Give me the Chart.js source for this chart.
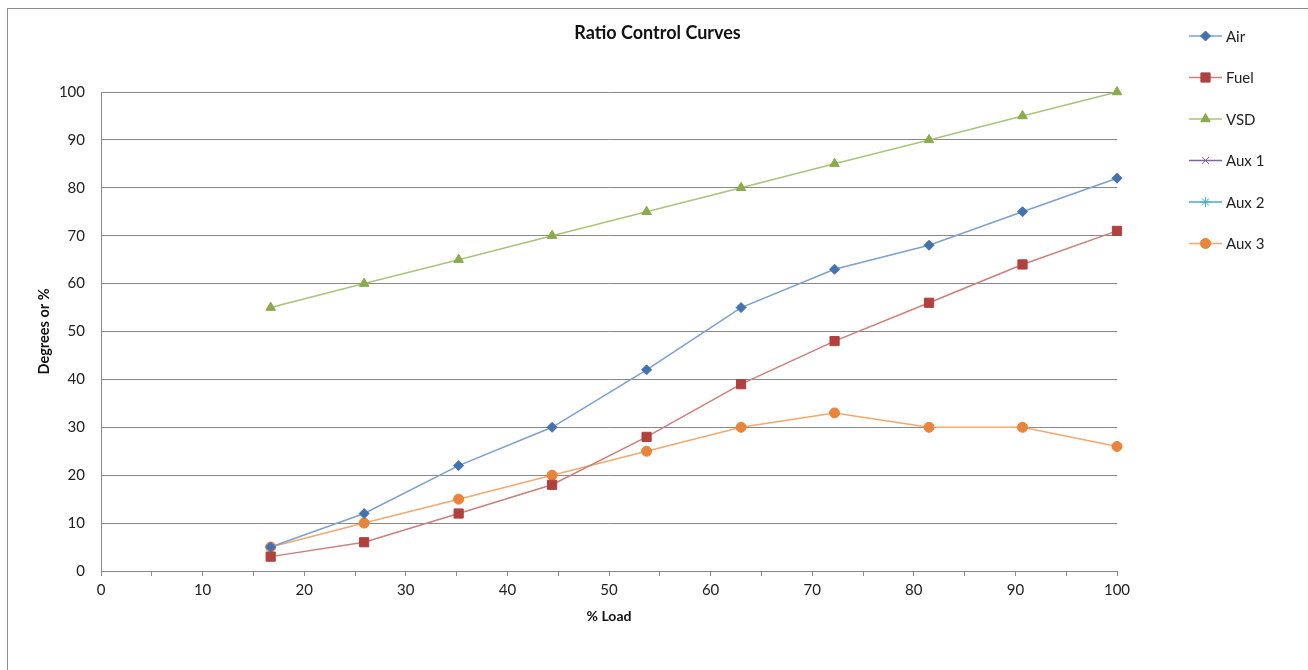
<!DOCTYPE html>
<html>
<head>
<meta charset="utf-8">
<script src="https://cdn.jsdelivr.net/npm/chart.js@4.4.0/dist/chart.umd.min.js"></script>
<style>
  html, body { margin: 0; padding: 0; background: #fff; }
  #wrap { position: relative; width: 1308px; height: 670px; }
</style>
</head>
<body>
<div id="wrap"><canvas id="ratioChart" width="1308" height="670"></canvas></div>
<script>
// Ratio control curves
const loadPct   = [16.7, 25.9, 35.2, 44.4, 53.7, 63.0, 72.2, 81.5, 90.7, 100];
const airVals   = [5, 12, 22, 30, 42, 55, 63, 68, 75, 82];
const fuelVals  = [3, 6, 12, 18, 28, 39, 48, 56, 64, 71];
const vsdVals   = [55, 60, 65, 70, 75, 80, 85, 90, 95, 100];
const aux1Vals  = [];
const aux2Vals  = [];
const aux3Vals  = [5, 10, 15, 20, 25, 30, 33, 30, 30, 26];

const seriesNames = ['Air', 'Fuel', 'VSD', 'Aux 1', 'Aux 2', 'Aux 3'];
const FONT = 'Lato, "Open Sans", sans-serif';

const styles = [
  { line: '#7ca0cf', mark: '#4472b0', shape: 'rectRot', r: 5 },
  { line: '#cc7f7d', mark: '#b0413e', shape: 'rect',    r: 6.5 },
  { line: '#a9c47a', mark: '#8aab4a', shape: 'triangle', r: 5.5 },
  { line: '#8064a2', mark: '#8064a2', shape: 'crossRot', r: 5 },
  { line: '#4bacc6', mark: '#4bacc6', shape: 'star',     r: 5 },
  { line: '#f3a86e', mark: '#e9843a', shape: 'circle',   r: 5 },
];

function pts(vals) {
  return vals.map((v, i) => ({ x: loadPct[i], y: v }));
}

const allVals = [airVals, fuelVals, vsdVals, aux1Vals, aux2Vals, aux3Vals];

const datasets = allVals.map((vals, i) => ({
  label: seriesNames[i],
  data: pts(vals),
  showLine: true,
  clip: false,
  borderColor: styles[i].line,
  borderWidth: 1.5,
  pointStyle: styles[i].shape,
  pointRadius: styles[i].r,
  pointBackgroundColor: styles[i].mark,
  pointBorderColor: styles[i].mark,
  pointBorderWidth: 1,
  tension: 0,
}));

// outer frame + legend drawn next to the plot like the spreadsheet chart
const framePlugin = {
  id: 'frame',
  beforeDraw(chart) {
    const ctx = chart.ctx;
    ctx.save();
    ctx.fillStyle = '#fff';
    ctx.fillRect(0, 0, chart.width, chart.height);
    ctx.strokeStyle = '#8c8c8c';
    ctx.lineWidth = 1;
    ctx.strokeRect(7.5, 8.5, 1400, 700);
    ctx.restore();
  },
  afterDraw(chart) {
    const ctx = chart.ctx;
    const drawPoint = Chart.helpers && Chart.helpers.drawPoint;
    ctx.save();
    chart.data.datasets.forEach((ds, i) => {
      const y = 36 + i * 41.5;
      ctx.strokeStyle = ds.borderColor;
      ctx.lineWidth = 1.5;
      ctx.beginPath();
      ctx.moveTo(1189, y);
      ctx.lineTo(1222, y);
      ctx.stroke();
      if (drawPoint) {
        ctx.fillStyle = ds.pointBackgroundColor;
        ctx.strokeStyle = ds.pointBorderColor;
        ctx.lineWidth = 1;
        drawPoint(ctx, { pointStyle: ds.pointStyle, radius: ds.pointRadius, borderWidth: 1, rotation: 0 }, 1205.5, y);
      }
      ctx.fillStyle = '#222';
      ctx.font = '15px ' + FONT;
      ctx.textBaseline = 'middle';
      ctx.textAlign = 'left';
      ctx.fillText(ds.label, 1226, y + 1);
    });
    ctx.restore();
  }
};

new Chart(document.getElementById('ratioChart'), {
  type: 'scatter',
  data: { datasets },
  plugins: [framePlugin],
  options: {
    responsive: false,
    animation: false,
    layout: { padding: { left: 7, right: 0, top: 0, bottom: 38 } },
    plugins: {
      legend: { display: false },
      tooltip: { enabled: false },
      title: {
        display: true,
        text: 'Ratio Control Curves',
        color: '#111',
        font: { family: FONT, size: 18, weight: 'bold', lineHeight: 1.2 },
        padding: { top: 22, bottom: 48.4 },
      },
    },
    scales: {
      x: {
        type: 'linear',
        min: 0, max: 100,
        afterFit(scale) { scale.height = 61; },
        ticks: {
          stepSize: 5,
          autoSkip: false,
          maxRotation: 0,
          padding: 5,
          color: '#222',
          font: { family: FONT, size: 15 },
          callback: v => (v % 10 === 0 ? v : ''),
        },
        grid: { drawOnChartArea: false, drawTicks: true, tickLength: 5, color: '#888' },
        border: { color: '#888' },
        title: {
          display: true,
          text: '% Load',
          color: '#111',
          font: { family: FONT, size: 14, weight: 'bold', lineHeight: 1.2 },
          padding: { top: 4, bottom: 7 },
        },
      },
      y: {
        min: 0, max: 100,
        afterFit(scale) { scale.width = 94; },
        ticks: {
          stepSize: 10,
          padding: 16,
          color: '#222',
          font: { family: FONT, size: 15 },
        },
        grid: { drawTicks: false, color: '#888' },
        border: { color: '#888' },
        title: {
          display: true,
          text: 'Degrees or %',
          color: '#111',
          font: { family: FONT, size: 14.5, weight: 'bold', lineHeight: 1.2 },
          padding: { top: 29, bottom: 4 },
        },
      },
      // empty right-hand axis that only reserves room for the legend
      yRoom: {
        position: 'right',
        min: 0, max: 100,
        afterFit(scale) { scale.width = 191; },
        ticks: { display: false },
        grid: { display: false },
        border: { display: false },
      },
    },
  },
});
</script>
</body>
</html>
